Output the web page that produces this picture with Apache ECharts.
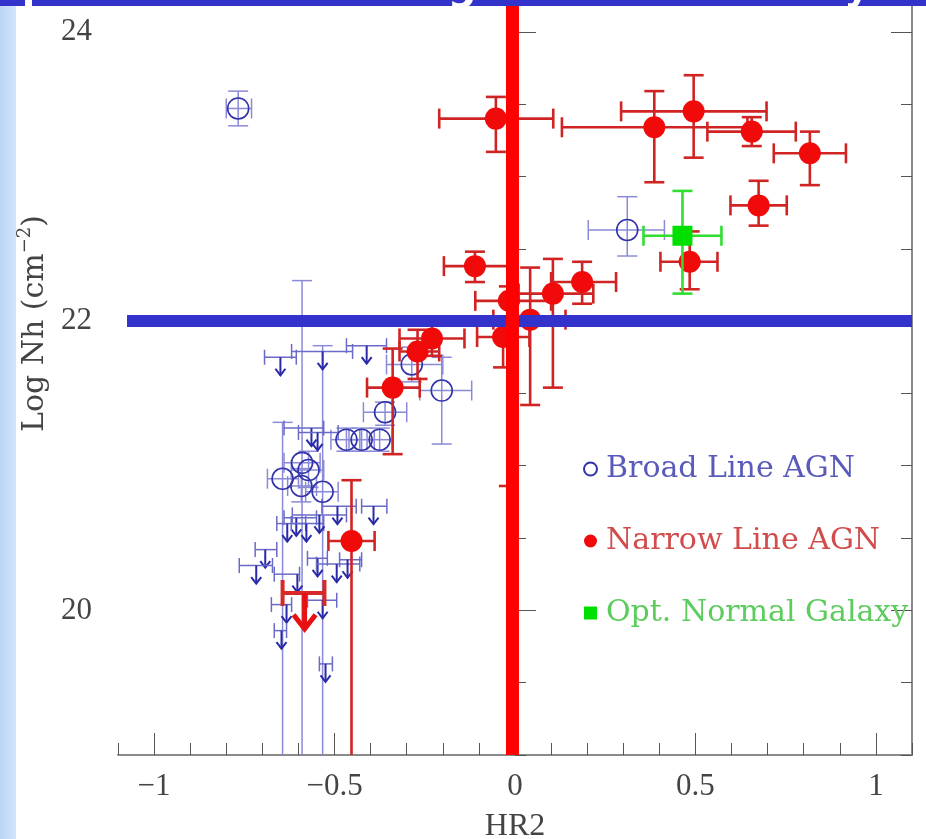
<!DOCTYPE html>
<html>
<head>
<meta charset="utf-8">
<script src="https://cdn.jsdelivr.net/npm/echarts@6/dist/echarts.min.js"></script>
<style>
html, body { margin: 0; padding: 0; background: #fff; }
#chart { width: 926px; height: 839px; }
</style>
</head>
<body>
<div id="chart"></div>
<script>
// rows: [HR2, logNh, HR2 low, HR2 high, logNh low, logNh high]
const broadLine = [
    [-0.767, 23.47, -0.80, -0.73, 23.35, 23.59],
    [0.311, 22.63, 0.203, 0.414, 22.45, 22.86],
    [-0.203, 21.52, -0.264, -0.12, 21.15, 21.75],
    [-0.286, 21.70, -0.356, -0.20, 21.58, 21.82],
    [-0.36, 21.37, -0.42, -0.30, 21.28, 21.44],
    [-0.467, 21.18, -0.51, -0.43, 21.10, 21.26],
    [-0.425, 21.18, -0.46, -0.39, 21.10, 21.26],
    [-0.375, 21.18, -0.41, -0.34, 21.10, 21.26],
    [-0.644, 20.91, -0.686, -0.60, 19.0, 21.30],
    [-0.59, 21.02, -0.64, -0.54, 19.0, 22.28],
    [-0.572, 20.97, -0.62, -0.53, 20.85, 21.10],
    [-0.592, 20.86, -0.63, -0.55, 20.75, 20.98],
    [-0.533, 20.82, -0.58, -0.49, 19.0, 21.83]
];
// upper limits: [HR2, logNh, HR2 low, HR2 high]
const broadLimits = [
    [-0.65, 21.75, -0.694, -0.606],
    [-0.533, 21.79, -0.619, -0.45],
    [-0.411, 21.83, -0.467, -0.356],
    [-0.564, 21.26, -0.64, -0.53],
    [-0.547, 21.23, -0.60, -0.49],
    [-0.631, 20.60, -0.66, -0.58],
    [-0.606, 20.64, -0.64, -0.55],
    [-0.578, 20.60, -0.62, -0.53],
    [-0.542, 20.66, -0.617, -0.467],
    [-0.492, 20.72, -0.535, -0.44],
    [-0.392, 20.72, -0.425, -0.355],
    [-0.692, 20.42, -0.72, -0.66],
    [-0.717, 20.31, -0.764, -0.672],
    [-0.547, 20.36, -0.575, -0.52],
    [-0.494, 20.32, -0.55, -0.43],
    [-0.464, 20.35, -0.486, -0.425],
    [-0.603, 20.25, -0.667, -0.597],
    [-0.633, 20.04, -0.675, -0.619],
    [-0.533, 20.07, -0.575, -0.494],
    [-0.647, 19.86, -0.667, -0.633],
    [-0.525, 19.63, -0.542, -0.506]
];
const narrowLine = [
    [-0.053, 23.40, -0.21, 0.106, 23.17, 23.55],
    [0.386, 23.34, 0.13, 0.644, 22.96, 23.59],
    [0.495, 23.45, 0.294, 0.697, 23.13, 23.70],
    [0.656, 23.31, 0.533, 0.778, 23.21, 23.41],
    [0.817, 23.16, 0.717, 0.917, 22.94, 23.31],
    [0.675, 22.80, 0.597, 0.753, 22.66, 22.97],
    [0.484, 22.41, 0.403, 0.561, 22.22, 22.62],
    [-0.111, 22.38, -0.197, -0.02, 22.27, 22.48],
    [-0.017, 22.14, -0.11, 0.10, 20.86, 22.24],
    [0.042, 22.01, -0.06, 0.14, 21.42, 22.37],
    [0.105, 22.19, 0.01, 0.217, 21.54, 22.43],
    [0.186, 22.27, 0.10, 0.28, 22.12, 22.41],
    [-0.033, 21.89, -0.105, 0.04, 21.68, 21.98],
    [-0.23, 21.88, -0.32, -0.14, 21.76, 21.98],
    [-0.27, 21.79, -0.32, -0.21, 21.60, 21.94],
    [-0.339, 21.54, -0.41, -0.264, 21.08, 21.81],
    [-0.453, 20.48, -0.517, -0.389, 19.0, 20.90]
];
const narrowLimits = [
    [-0.583, 20.12, -0.644, -0.528]
];
const normalGalaxy = [
    [0.464, 22.59, 0.356, 0.572, 22.19, 22.90]
];
const hr2Cut = -0.007;
const nhCut = 22;
const xTicks = [-1, -0.5, 0, 0.5, 1];
const yTicks = [20, 22, 24];
const xMin = -1.1, xMax = 1.1, yMin = 19, yMax = 24.22;

const serif = 'Liberation Serif';
const axisGray = '#8a8a8a';

function seg(x1, y1, x2, y2, style) {
    return { type: 'line', shape: { x1: x1, y1: y1, x2: x2, y2: y2 }, style: style };
}

function errorBars(color, width, cap) {
    return function (params, api) {
        const c = api.coord([api.value(0), api.value(1)]);
        const l = api.coord([api.value(2), api.value(1)]);
        const r = api.coord([api.value(3), api.value(1)]);
        const b = api.coord([api.value(0), api.value(4)]);
        const t = api.coord([api.value(0), api.value(5)]);
        const h = cap / 2;
        const st = { stroke: color, lineWidth: width, fill: null };
        const kids = [
            seg(l[0], c[1], r[0], c[1], st),
            seg(c[0], t[1], c[0], b[1], st),
            seg(l[0], c[1] - h, l[0], c[1] + h, st),
            seg(r[0], c[1] - h, r[0], c[1] + h, st),
            seg(c[0] - h, t[1], c[0] + h, t[1], st)
        ];
        if (api.value(4) > yMin + 0.05) kids.push(seg(c[0] - h, b[1], c[0] + h, b[1], st));
        return { type: 'group', children: kids };
    };
}

function limitArrows(barColor, arrowColor, width, cap, len, head, headWidth) {
    return function (params, api) {
        const c = api.coord([api.value(0), api.value(1)]);
        const l = api.coord([api.value(2), api.value(1)]);
        const r = api.coord([api.value(3), api.value(1)]);
        const h = cap / 2;
        const bs = { stroke: barColor, lineWidth: width, fill: null };
        const as = { stroke: arrowColor, lineWidth: headWidth, fill: null };
        const tip = c[1] + len;
        return { type: 'group', children: [
            seg(l[0], c[1], r[0], c[1], bs),
            seg(l[0], c[1] - h, l[0], c[1] + h, bs),
            seg(r[0], c[1] - h, r[0], c[1] + h, bs),
            seg(c[0], c[1], c[0], tip, as),
            { type: 'polyline', shape: { points: [[c[0] - head, tip - head * 1.3], [c[0], tip], [c[0] + head, tip - head * 1.3]] }, style: as }
        ] };
    };
}

const chart = echarts.init(document.getElementById('chart'));
chart.setOption({
    animation: false,
    backgroundColor: '#ffffff',
    grid: { left: 118, right: 14, top: 0, bottom: 84, outerBoundsMode: 'none', containLabel: false },
    xAxis: [
        {
            type: 'value', min: xMin, max: xMax, interval: 0.1, position: 'bottom',
            axisLine: { lineStyle: { color: axisGray, width: 2 } },
            axisTick: { inside: true, length: 12, lineStyle: { color: '#555', width: 1 } },
            axisLabel: { show: false }, splitLine: { show: false }
        },
        {
            type: 'value', min: xMin, max: xMax, position: 'bottom',
            axisLine: { show: false },
            axisTick: { inside: true, length: 22, customValues: xTicks, lineStyle: { color: '#555', width: 1 } },
            axisLabel: {
                customValues: xTicks, margin: 16, fontFamily: serif, fontSize: 31, color: '#444',
                formatter: v => String(v).replace('-', '\u2212')
            },
            splitLine: { show: false },
            name: 'HR2', nameLocation: 'middle', nameGap: 56,
            nameTextStyle: { fontFamily: serif, fontSize: 32, color: '#444' }
        }
    ],
    yAxis: [
        {
            type: 'value', min: yMin, max: yMax, interval: 0.5, position: 'left',
            axisLine: { lineStyle: { color: axisGray, width: 2 } },
            axisTick: { inside: true, length: 11, lineStyle: { color: '#555', width: 1 } },
            axisLabel: { show: false }, splitLine: { show: false }
        },
        {
            type: 'value', min: yMin, max: yMax, position: 'left',
            axisLine: { show: false },
            axisTick: { inside: true, length: 21, customValues: yTicks, lineStyle: { color: '#555', width: 1 } },
            axisLabel: { customValues: yTicks, margin: 26, fontFamily: serif, fontSize: 31, color: '#444' },
            splitLine: { show: false },
            name: '{n|Log Nh (cm}{s|\u22122}{n|)}', nameLocation: 'middle', nameGap: 54, nameRotate: 90,
            nameTextStyle: {
                padding: [0, 0, 0, 108],
                rich: {
                    n: { fontFamily: 'DejaVu Serif', fontSize: 30, color: '#444', lineHeight: 38 },
                    s: { fontFamily: 'DejaVu Serif', fontSize: 18, color: '#444', lineHeight: 38, verticalAlign: 'top' }
                }
            }
        },
        {
            type: 'value', min: yMin, max: yMax, interval: 0.5, position: 'right',
            axisLine: { lineStyle: { color: axisGray, width: 2 } },
            axisTick: { inside: true, length: 11, lineStyle: { color: '#555', width: 1 } },
            axisLabel: { show: false }, splitLine: { show: false }
        },
        {
            type: 'value', min: yMin, max: yMax, position: 'right',
            axisLine: { show: false },
            axisTick: { inside: true, length: 21, customValues: yTicks, lineStyle: { color: '#555', width: 1 } },
            axisLabel: { show: false }, splitLine: { show: false }
        }
    ],
    legend: {
        orient: 'vertical', left: 578, top: 448, itemGap: 40, itemWidth: 13, itemHeight: 13,
        selectedMode: false,
        textStyle: { fontFamily: 'DejaVu Serif', fontSize: 30, lineHeight: 32, padding: [0, 0, 0, 4] },
        data: [
            { name: 'Broad Line AGN', icon: 'circle', textStyle: { color: '#5a5abb' } },
            { name: 'Narrow Line AGN', icon: 'circle', textStyle: { color: '#d24c4c' } },
            { name: 'Opt. Normal Galaxy', icon: 'rect', textStyle: { color: '#5ccc5c' } }
        ]
    },
    series: [
        {
            type: 'custom', name: 'blErr', data: broadLine, z: 2, silent: true,
            encode: { x: 0, y: 1 }, renderItem: errorBars('#8a8ad8', 1.5, 20)
        },
        {
            type: 'custom', name: 'blLim', data: broadLimits, z: 3, silent: true,
            encode: { x: 0, y: 1 }, renderItem: limitArrows('#6a6ac8', '#2a2aa8', 1.5, 15, 18, 5, 2)
        },
        {
            type: 'scatter', name: 'Broad Line AGN', data: broadLine.map(d => [d[0], d[1]]), z: 3,
            symbol: 'circle', symbolSize: 21,
            itemStyle: { color: 'rgba(255,255,255,0)', borderColor: '#3232aa', borderWidth: 1.6, opacity: 1 }
        },
        {
            type: 'custom', name: 'nlErr', data: narrowLine, z: 4, silent: true,
            encode: { x: 0, y: 1 }, renderItem: errorBars('#d02424', 2.6, 20)
        },
        {
            type: 'custom', name: 'nlLim', data: narrowLimits, z: 4, silent: true,
            encode: { x: 0, y: 1 }, renderItem: limitArrows('#d82828', '#e81010', 4, 26, 36, 11, 5)
        },
        {
            type: 'scatter', name: 'Narrow Line AGN', data: narrowLine.map(d => [d[0], d[1]]), z: 5,
            symbol: 'circle', symbolSize: 22, itemStyle: { color: '#f00a0a', opacity: 1 }
        },
        {
            type: 'custom', name: 'ngErr', data: normalGalaxy, z: 6, silent: true,
            encode: { x: 0, y: 1 }, renderItem: errorBars('#30dd30', 2.6, 20)
        },
        {
            type: 'scatter', name: 'Opt. Normal Galaxy', data: normalGalaxy.map(d => [d[0], d[1]]), z: 6,
            symbol: 'rect', symbolSize: 20, itemStyle: { color: '#00e000', opacity: 1 }
        },
        {
            type: 'line', name: 'nhCut', data: [[-1.075, nhCut], [xMax, nhCut]], z: 8, silent: true,
            symbol: 'none', lineStyle: { color: '#3333cc', width: 12 }
        },
        {
            type: 'line', name: 'hr2Cut', data: [[hr2Cut, yMin], [hr2Cut, yMax]], z: 9, silent: true,
            symbol: 'none', lineStyle: { color: '#ff0000', width: 13 }
        }
    ],
    graphic: [
        {
            type: 'rect', left: 0, top: 0, z: 100, silent: true,
            shape: { width: 16, height: 839 },
            style: { fill: new echarts.graphic.LinearGradient(0, 0, 1, 0, [
                { offset: 0, color: '#bcd5f6' }, { offset: 1, color: '#d3e5fb' }
            ]) }
        },
        { type: 'rect', left: 0, top: 0, z: 101, silent: true, shape: { width: 25, height: 6 }, style: { fill: '#3333cc' } },
        { type: 'rect', left: 32, top: 0, z: 101, silent: true, shape: { width: 894, height: 6 }, style: { fill: '#3333cc' } },
        { type: 'text', x: 462, y: 9, z: 102, silent: true,
          style: { text: 'g', fill: '#ffffff', font: 'bold 40px "DejaVu Sans"', align: 'center', verticalAlign: 'bottom' } },
        { type: 'text', x: 857, y: 9, z: 102, silent: true,
          style: { text: 'y', fill: '#ffffff', font: 'bold 40px "DejaVu Sans"', align: 'center', verticalAlign: 'bottom' } }
    ]
});
</script>
</body>
</html>
